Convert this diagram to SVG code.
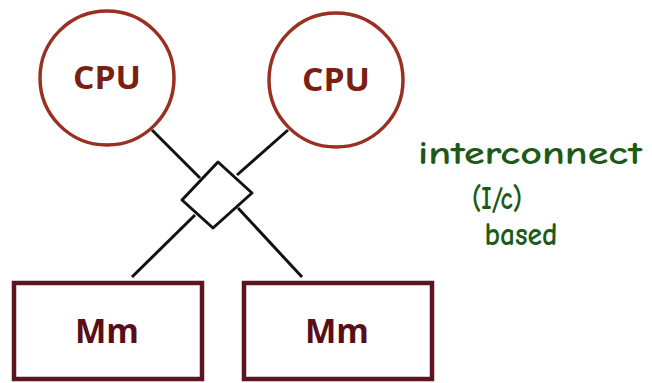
<svg xmlns="http://www.w3.org/2000/svg" width="652" height="383" viewBox="0 0 652 383">
<style>
.cpu{fill:#fff;stroke:#9a3022;stroke-width:3.5}
.mem{fill:#fff;stroke:#5e1520;stroke-width:4.5}
.lbl{font-family:"Open Sans","DejaVu Sans",sans-serif;font-weight:bold;text-anchor:middle}
.cpt{fill:#7a1f12;font-size:32px}
.mmt{fill:#5a0f18;font-size:34px}
.conn{stroke:#111;stroke-width:3;fill:none}
.note{font-family:"Comic Neue","DejaVu Sans",sans-serif;font-weight:bold;fill:#1c5a17;font-size:33px;text-anchor:middle}
</style>
<rect width="652" height="383" fill="#fff"/>
<g id="connectors">
<line class="conn" x1="152" y1="130" x2="200" y2="178"/>
<line class="conn" x1="288" y1="130" x2="237" y2="175"/>
<line class="conn" x1="195" y1="215" x2="132" y2="277"/>
<line class="conn" x1="238" y1="208" x2="302" y2="277"/>
</g>
<g id="cpu1"><circle class="cpu" cx="107" cy="78" r="67"/><text class="lbl cpt" x="107" y="89" textLength="68" lengthAdjust="spacingAndGlyphs">CPU</text></g>
<g id="cpu2"><circle class="cpu" cx="336" cy="80" r="67"/><text class="lbl cpt" x="336" y="91" textLength="68" lengthAdjust="spacingAndGlyphs">CPU</text></g>
<g id="switch"><polygon points="182,200 218,162 252,193 213,228" fill="#fff" stroke="#111" stroke-width="3" stroke-linejoin="round"/></g>
<g id="mem1"><rect class="mem" x="14" y="283" width="188" height="96"/><text class="lbl mmt" x="107" y="343" textLength="64" lengthAdjust="spacingAndGlyphs">Mm</text></g>
<g id="mem2"><rect class="mem" x="244" y="283" width="188" height="96"/><text class="lbl mmt" x="337" y="343" textLength="64" lengthAdjust="spacingAndGlyphs">Mm</text></g>
<g id="note">
<text class="note" x="530" y="164" textLength="224" lengthAdjust="spacingAndGlyphs">interconnect</text>
<text class="note" x="497" y="209" font-size="27" textLength="50" lengthAdjust="spacingAndGlyphs">(I/c)</text>
<text class="note" x="521" y="245" textLength="73" lengthAdjust="spacingAndGlyphs">based</text>
</g>
</svg>
